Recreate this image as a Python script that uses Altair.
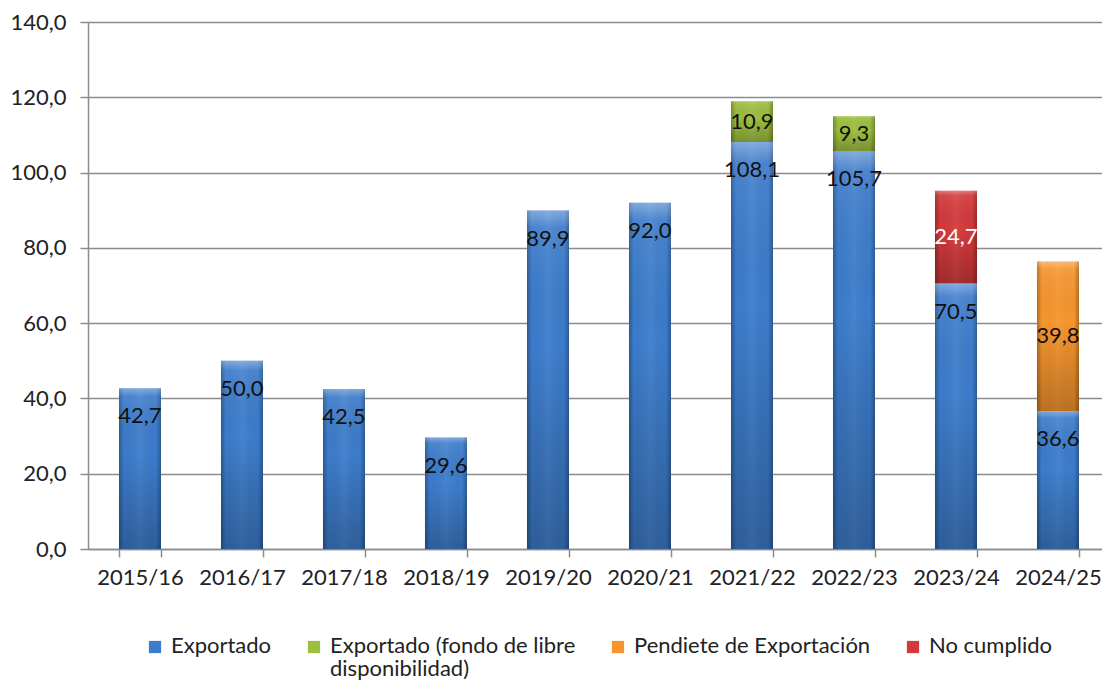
import altair as alt
import pandas as pd

campanas = ["2015/16", "2016/17", "2017/18", "2018/19", "2019/20",
            "2020/21", "2021/22", "2022/23", "2023/24", "2024/25"]
exportado = [42.7, 50.0, 42.5, 29.6, 89.9, 92.0, 108.1, 105.7, 70.5, 36.6]
exportado_libre = [0, 0, 0, 0, 0, 0, 10.9, 9.3, 0, 0]
pendiente = [0, 0, 0, 0, 0, 0, 0, 0, 0, 39.8]
no_cumplido = [0, 0, 0, 0, 0, 0, 0, 0, 24.7, 0]

series = ["Exportado", "Exportado (fondo de libre disponibilidad)",
          "Pendiete de Exportación", "No cumplido"]
colores = ["#3c7ccc", "#9dbe3e", "#f7952c", "#d4393b"]
color_texto = ["#111111", "#111111", "#111111", "#ffffff"]

rows = []
for orden, (nombre, vals) in enumerate(zip(series, [exportado, exportado_libre, pendiente, no_cumplido])):
    for c, v in zip(campanas, vals):
        if v > 0:
            rows.append({"cat": c, "serie": nombre, "value": v, "ord": orden,
                         "tcol": color_texto[orden]})
df = pd.DataFrame(rows)

FONT = "Lato"
DY = -11

xenc = alt.X("cat:N", sort=campanas, title=None,
             scale=alt.Scale(paddingInner=0.588, paddingOuter=0.2646, align=0.574),
             axis=alt.Axis(labelAngle=0, labelFontSize=22, labelFont=FONT, labelColor="#222222",
                           tickBand="extent", tickSize=8, tickColor="#8c8c8c", tickWidth=1.5,
                           domainColor="#8c8c8c", domainWidth=1.5, labelPadding=10 - DY, grid=False))

base = alt.Chart(df).transform_stack(
    stack="value", groupby=["cat"], as_=["v0", "v1"], sort=[alt.SortField("ord", order="ascending")]
).transform_calculate(
    lbl="replace(format(datum.value, '.1f'), '.', ',')",
    mid="(datum.v0 + datum.v1) / 2"
)

yscale = alt.Scale(domain=[0, 140])
yaxis = alt.Axis(values=list(range(0, 141, 20)), labelFontSize=22, labelFont=FONT, labelColor="#222222",
                 labelExpr="replace(format(datum.value, '.1f'), '.', ',')",
                 tickSize=8, tickColor="#8c8c8c", tickWidth=1.5, domainColor="#8c8c8c", domainWidth=1.5,
                 gridColor="#8c8c8c", gridWidth=1.5, labelPadding=14, labelOffset=-DY, title=None)

bars = base.mark_bar().encode(
    x=xenc,
    y=alt.Y("v1:Q", scale=yscale, axis=yaxis),
    y2="v0:Q",
    color=alt.Color("serie:N", scale=alt.Scale(domain=series, range=colores),
                    legend=alt.Legend(
                        title=None, orient="none", legendX=56, legendY=614, direction="horizontal",
                        symbolType="square", symbolSize=150, symbolStrokeWidth=0,
                        labelFontSize=22, labelFont=FONT, labelColor="#222222", labelLimit=400,
                        labelBaseline="top", labelOffset=5, columnPadding=31,
                        labelExpr="datum.label == 'Exportado (fondo de libre disponibilidad)' ? ['Exportado (fondo de libre', 'disponibilidad)'] : [datum.label, ' ']"))
)

side_shade = base.mark_bar(
    color=alt.Gradient(gradient="linear", x1=0, x2=1, y1=0, y2=0, stops=[
        alt.GradientStop(color="rgba(0,0,0,0.28)", offset=0),
        alt.GradientStop(color="rgba(0,0,0,0.0)", offset=0.12),
        alt.GradientStop(color="rgba(255,255,255,0.06)", offset=0.5),
        alt.GradientStop(color="rgba(0,0,0,0.0)", offset=0.88),
        alt.GradientStop(color="rgba(0,0,0,0.28)", offset=1),
    ])
).encode(x=xenc, y=alt.Y("v1:Q", scale=yscale), y2="v0:Q")

vert_shade = base.mark_bar(
    color=alt.Gradient(gradient="linear", x1=0, x2=0, y1=0, y2=1, stops=[
        alt.GradientStop(color="rgba(255,255,255,0.35)", offset=0),
        alt.GradientStop(color="rgba(255,255,255,0.08)", offset=0.05),
        alt.GradientStop(color="rgba(0,0,0,0.0)", offset=0.4),
        alt.GradientStop(color="rgba(0,0,0,0.24)", offset=1),
    ])
).encode(x=xenc, y=alt.Y("v1:Q", scale=yscale), y2="v0:Q")

txt_blue = base.transform_filter("datum.ord == 0").mark_text(
    fontSize=22, font=FONT, baseline="middle", dy=28
).encode(x=xenc, y=alt.Y("v1:Q", scale=yscale), text="lbl:N",
         color=alt.Color("tcol:N", scale=None))

txt_other = base.transform_filter("datum.ord > 0").mark_text(
    fontSize=22, font=FONT, baseline="middle"
).encode(x=xenc, y=alt.Y("mid:Q", scale=yscale), text="lbl:N",
         color=alt.Color("tcol:N", scale=None))

chart = alt.layer(bars, side_shade, vert_shade, txt_blue, txt_other).properties(
    width=1014, height=527,
    autosize=alt.AutoSizeParams(type="none"),
    padding={"left": 80, "top": 14, "right": 0, "bottom": 132},
    background="white"
).configure_view(fill="#d9d9d9", stroke=None).configure(
    style={"guide-label": {"dy": DY, "lineHeight": 23}}
)

chart.save("out.html", embed_options={"renderer": "svg", "actions": False})
